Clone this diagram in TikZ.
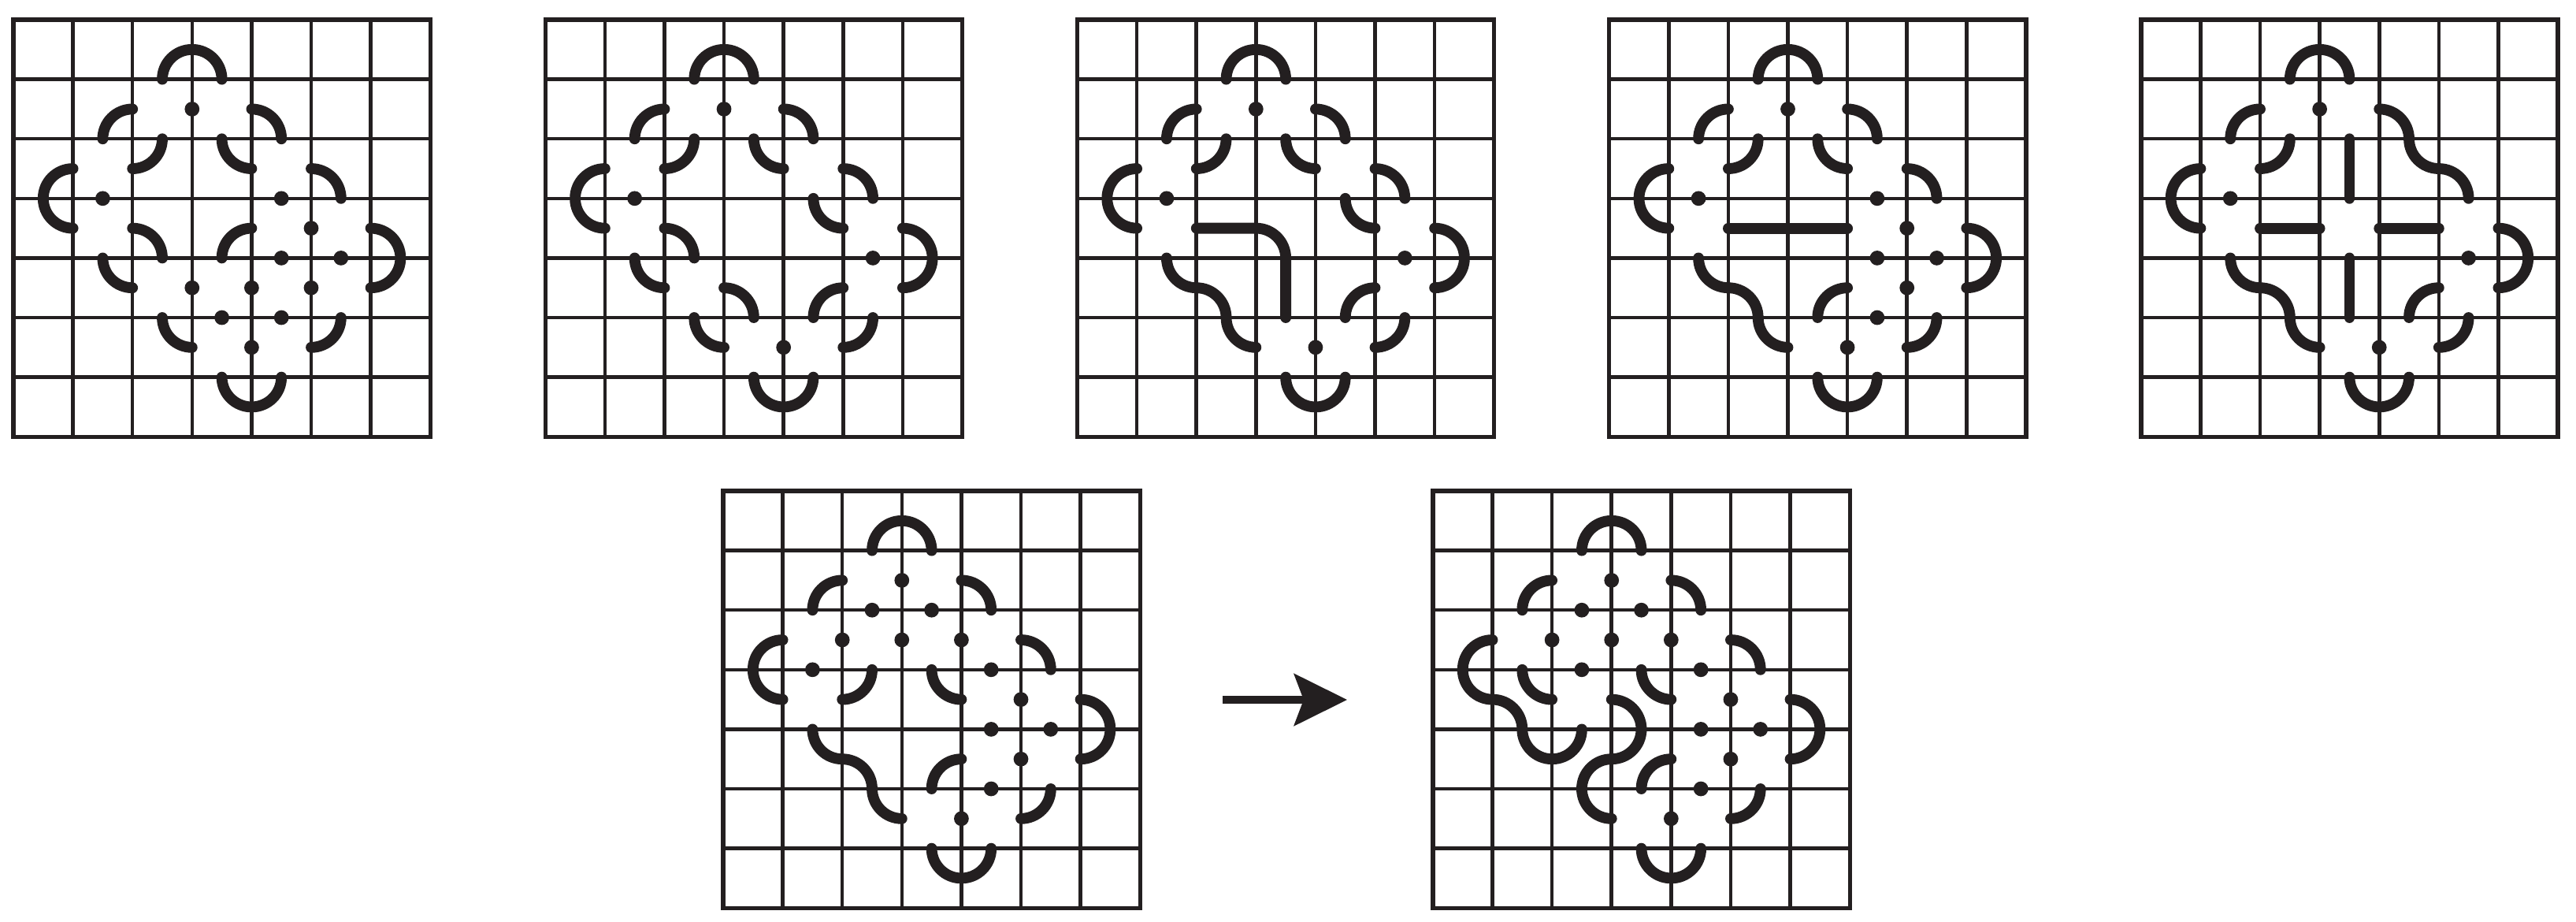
\documentclass[tikz,border=0pt]{standalone}
\usetikzlibrary{arrows.meta}
\definecolor{ink}{HTML}{231F20}
\tikzset{
  gridline/.style={draw=ink, line width=1.7pt},
  border/.style={draw=ink, line width=2pt},
  curve/.style={draw=ink, line width=5.2pt, line cap=round},
  arrowline/.style={draw=ink, fill=ink, line width=3.4pt, -{Stealth[length=0.89cm, width=0.87cm, inset=0.16cm]}},
}
\newcommand\qarc[4]{\draw[curve] ({#1+0.5*cos(#3)},{#2+0.5*sin(#3)}) arc[start angle=#3,end angle=#4,radius=0.5];}
\newcommand\gdot[2]{\fill[ink] (#1,#2) circle[radius=0.124];}
\newcommand\gridframe{\draw[gridline] (0,0) grid (7,7); \draw[border] (0,0) rectangle (7,7);}
\newcommand\semN{\qarc{3}{1}{180}{360}}
\newcommand\semS{\qarc{4}{6}{0}{180}}
\newcommand\semE{\qarc{6}{4}{-90}{90}}
\newcommand\semW{\qarc{1}{3}{90}{270}}
\newcommand\scurveL{\draw[curve] (1.5,4) arc[start angle=180,end angle=90,radius=0.5] arc[start angle=270,end angle=360,radius=0.5] arc[start angle=180,end angle=90,radius=0.5];}
\begin{document}
\begin{tikzpicture}[yscale=-1]
\useasboundingbox (0,0) rectangle (43.254,15.476);
% ---------- grid 1 ----------
\begin{scope}[shift={(0.225,0.331)}]
\gridframe
\semN \semS \semE \semW
\qarc{2}{2}{180}{270} \qarc{2}{2}{0}{90}
\qarc{4}{2}{270}{360} \qarc{4}{2}{90}{180}
\qarc{2}{4}{270}{360} \qarc{2}{4}{90}{180}
\qarc{5}{3}{270}{360}
\qarc{4}{4}{180}{270}
\qarc{3}{5}{90}{180}
\qarc{5}{5}{0}{90}
\gdot{3}{1.5} \gdot{1.5}{3} \gdot{4.5}{3} \gdot{5}{3.5} \gdot{4.5}{4} \gdot{5.5}{4}
\gdot{3}{4.5} \gdot{4}{4.5} \gdot{5}{4.5} \gdot{3.5}{5} \gdot{4.5}{5} \gdot{4}{5.5}
\end{scope}
% ---------- grid 2 ----------
\begin{scope}[shift={(9.157,0.331)}]
\gridframe
\semN \semS \semE \semW
\qarc{2}{2}{180}{270} \qarc{2}{2}{0}{90}
\qarc{4}{2}{270}{360} \qarc{4}{2}{90}{180}
\qarc{5}{3}{270}{360} \qarc{5}{3}{90}{180}
\qarc{2}{4}{270}{360} \qarc{2}{4}{90}{180}
\qarc{3}{5}{270}{360} \qarc{3}{5}{90}{180}
\qarc{5}{5}{180}{270} \qarc{5}{5}{0}{90}
\gdot{3}{1.5} \gdot{1.5}{3} \gdot{5.5}{4} \gdot{4}{5.5}
\end{scope}
% ---------- grid 3 ----------
\begin{scope}[shift={(18.089,0.331)}]
\gridframe
\semN \semS \semE \semW
\qarc{2}{2}{180}{270} \qarc{2}{2}{0}{90}
\qarc{4}{2}{270}{360} \qarc{4}{2}{90}{180}
\qarc{5}{3}{270}{360} \qarc{5}{3}{90}{180}
\qarc{5}{5}{180}{270} \qarc{5}{5}{0}{90}
\draw[curve] (2,3.5) -- (3,3.5) arc[start angle=270,end angle=360,radius=0.5] -- (3.5,5);
\scurveL
\gdot{3}{1.5} \gdot{1.5}{3} \gdot{5.5}{4} \gdot{4}{5.5}
\end{scope}
% ---------- grid 4 ----------
\begin{scope}[shift={(27.02,0.331)}]
\gridframe
\semN \semS \semE \semW
\qarc{2}{2}{180}{270} \qarc{2}{2}{0}{90}
\qarc{4}{2}{270}{360} \qarc{4}{2}{90}{180}
\qarc{5}{3}{270}{360}
\qarc{4}{5}{180}{270}
\qarc{5}{5}{0}{90}
\draw[curve] (2,3.5) -- (4,3.5);
\scurveL
\gdot{3}{1.5} \gdot{1.5}{3} \gdot{4.5}{3} \gdot{5}{3.5} \gdot{4.5}{4} \gdot{5.5}{4}
\gdot{5}{4.5} \gdot{4.5}{5} \gdot{4}{5.5}
\end{scope}
% ---------- grid 5 ----------
\begin{scope}[shift={(35.95,0.331)}]
\gridframe
\semN \semS \semE \semW
\qarc{2}{2}{180}{270} \qarc{2}{2}{0}{90}
\qarc{5}{5}{180}{270} \qarc{5}{5}{0}{90}
\draw[curve] (4,1.5) arc[start angle=270,end angle=360,radius=0.5] arc[start angle=180,end angle=90,radius=0.5] arc[start angle=270,end angle=360,radius=0.5];
\draw[curve] (3.5,2) -- (3.5,3);
\draw[curve] (2,3.5) -- (3,3.5);
\draw[curve] (4,3.5) -- (5,3.5);
\draw[curve] (3.5,4) -- (3.5,5);
\scurveL
\gdot{3}{1.5} \gdot{1.5}{3} \gdot{5.5}{4} \gdot{4}{5.5}
\end{scope}
% ---------- grid 6 ----------
\begin{scope}[shift={(12.143,8.241)}]
\gridframe
\semN \semS \semE \semW
\qarc{2}{2}{180}{270}
\qarc{4}{2}{270}{360}
\qarc{2}{3}{0}{90}
\qarc{4}{3}{90}{180}
\qarc{5}{3}{270}{360}
\qarc{4}{5}{180}{270}
\qarc{5}{5}{0}{90}
\scurveL
\gdot{3}{1.5} \gdot{2.5}{2} \gdot{3.5}{2} \gdot{2}{2.5} \gdot{3}{2.5} \gdot{4}{2.5}
\gdot{1.5}{3} \gdot{4.5}{3} \gdot{5}{3.5} \gdot{4.5}{4} \gdot{5.5}{4}
\gdot{5}{4.5} \gdot{4.5}{5} \gdot{4}{5.5}
\end{scope}
% ---------- arrow ----------
\coordinate (arrS) at (20.53,11.746);
\coordinate (arrE) at (22.62,11.746);
\draw[arrowline] (arrS) -- (arrE);
% ---------- grid 7 ----------
\begin{scope}[shift={(24.06,8.241)}]
\gridframe
\semN \semS \semE
\qarc{2}{2}{180}{270}
\qarc{4}{2}{270}{360}
\qarc{2}{3}{90}{180}
\qarc{4}{3}{90}{180}
\qarc{5}{3}{270}{360}
\qarc{4}{5}{180}{270}
\qarc{5}{5}{0}{90}
\draw[curve] (1,2.5) arc[start angle=270,end angle=90,radius=0.5] arc[start angle=270,end angle=360,radius=0.5] arc[start angle=180,end angle=0,radius=0.5];
\draw[curve] (3,3.5) arc[start angle=-90,end angle=90,radius=0.5] arc[start angle=270,end angle=90,radius=0.5];
\gdot{3}{1.5} \gdot{2.5}{2} \gdot{3.5}{2} \gdot{2}{2.5} \gdot{3}{2.5} \gdot{4}{2.5}
\gdot{2.5}{3} \gdot{4.5}{3} \gdot{5}{3.5} \gdot{4.5}{4} \gdot{5.5}{4}
\gdot{5}{4.5} \gdot{4.5}{5} \gdot{4}{5.5}
\end{scope}
\end{tikzpicture}
\end{document}
